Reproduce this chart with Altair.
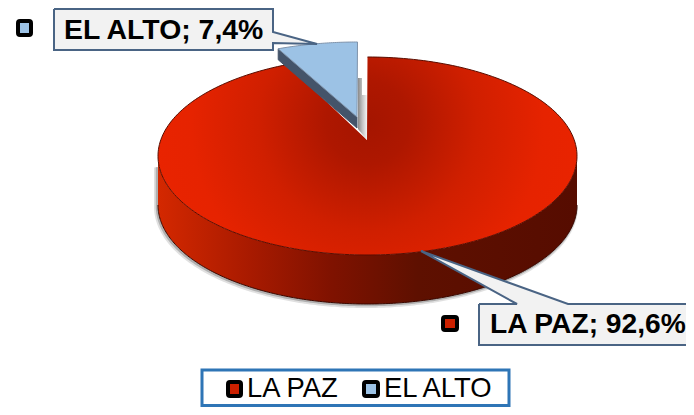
import numpy as np
import pandas as pd
import altair as alt

categories = ["LA PAZ", "EL ALTO"]
values = [92.6, 7.4]

FONT = "Liberation Sans"
XS = alt.Scale(domain=[8, 686], range=[0, 678])
YS = alt.Scale(domain=[407, 8], range=[399, 0])
X = alt.X("x:Q", scale=XS, axis=None)
Y = alt.Y("y:Q", scale=YS, axis=None)


def ray_param(apex, c, rx, ry, share_before):
    """Ellipse parameter hit by the ray from the apex at the share's true angle."""
    a = np.deg2rad(360 * share_before / 100)
    dx, dy = np.sin(a) * rx, -np.cos(a) * ry
    ox, oy = (apex[0] - c[0]) / rx, (apex[1] - c[1]) / ry
    ux, uy = dx / rx, dy / ry
    A, B, C = ux**2 + uy**2, 2 * (ox * ux + oy * uy), ox**2 + oy**2 - 1
    s = (-B + np.sqrt(B * B - 4 * A * C)) / (2 * A)
    px, py = apex[0] + s * dx, apex[1] + s * dy
    return np.arctan2((px - c[0]) / rx, -(py - c[1]) / ry) % (2 * np.pi)


def arc(c, rx, ry, t0, t1, n=240):
    t = np.linspace(t0, t1, n)
    return list(zip(c[0] + rx * np.sin(t), c[1] - ry * np.cos(t)))


def poly(pts, **mark):
    df = pd.DataFrame(pts, columns=["x", "y"])
    df["i"] = range(len(df))
    return alt.Chart(df).mark_line(**mark).encode(x=X, y=Y, order="i:Q")


def grad(kind, stops, **kw):
    return alt.Gradient(
        gradient=kind,
        stops=[alt.GradientStop(color=c, offset=o) for o, c in stops],
        **kw,
    )


def rect(x0, y0, x1, y1, **mark):
    df = pd.DataFrame([{"x": x0, "y": y0, "x2": x1, "y2": y1}])
    return alt.Chart(df).mark_rect(**mark).encode(
        x=X, y=Y, x2="x2:Q", y2="y2:Q"
    )


def text(s, x, y, size, weight="normal"):
    df = pd.DataFrame([{"x": x, "y": y, "t": s}])
    return alt.Chart(df).mark_text(
        align="left", baseline="middle", font=FONT, fontSize=size,
        fontWeight=weight, color="#000000",
    ).encode(x=X, y=Y, text="t:N")


def label(i):
    return f"{categories[i]}; {values[i]:.1f}%".replace(".", ",")


# ---- main slice
c = (367.5, 156.0)
rx, ry, depth = 209.5, 99.0, 49.0
apex = (367.0, 140.0)
t_end = ray_param(apex, c, rx, ry, values[0])
top_pts = [apex] + arc(c, rx, ry, 0, t_end) + [apex]

front = arc(c, rx, ry, np.pi / 2, 3 * np.pi / 2)
wall_df = pd.DataFrame(front, columns=["x", "y"])
wall_df["y2"] = wall_df["y"] + depth
wall_df = wall_df.sort_values("x")

wall = alt.Chart(wall_df).mark_area(
    fill=grad("linear", [(0, "#d42800"), (0.22, "#a81a00"), (0.41, "#801200"),
                         (0.62, "#5e1000"), (1, "#560c00")],
              x1=0, x2=1, y1=0, y2=0),
).encode(x=X, y=Y, y2="y2:Q")

bottom = arc((c[0], c[1] + depth), rx, ry, np.pi / 2, 3 * np.pi / 2)
shadow_tail = [(c[0] - rx, c[1] + 10)]
shadow_a = poly([(x - 1.5, y + 1.5) for x, y in bottom + shadow_tail], stroke="#555555", strokeWidth=5, opacity=0.18)
shadow_b = poly([(x - 1, y + 1) for x, y in bottom + shadow_tail], stroke="#555555", strokeWidth=2.5, opacity=0.35)
bottom_line = poly(bottom, stroke="#3a0800", strokeWidth=1)

top = poly(
    top_pts,
    fill=grad("radial", [(0, "#a41500"), (0.16, "#ae1700"), (0.42, "#d01f00"), (0.68, "#e62300"), (1, "#ec2400")],
              x1=0.5, y1=0.42, x2=0.5, y2=0.42, r1=0, r2=0.62),
    strokeWidth=0,
)
top_edge = poly(arc(c, rx, ry, 0, t_end), stroke="#5a0d00", strokeWidth=1)

# ---- shadow strip between the two slices
strip = poly(
    [(358, 78), (362, 78), (362, 95), (367, 95), (367, 140), (358, 129), (358, 78)],
    fill=grad("linear", [(0, "#8a8a8a"), (0.5, "#c4c4c4"), (1, "#f4f4f4")], x1=0, x2=1, y1=0, y2=0),
    strokeWidth=0,
)

# ---- detached slice
c2 = (357.5, 133.0)
rx2, ry2, depth2 = 209.5, 91.0, 11.0
apex2 = (357.0, 117.0)
t2 = ray_param(apex2, c2, rx2, ry2, values[0])
edge2 = arc(c2, rx2, ry2, t2, 2 * np.pi, 40)
blue_top = poly([apex2] + edge2 + [apex2], fill="#9cc2e5", stroke="#7f93ab", strokeWidth=1)
blue_wall = poly(
    [apex2, edge2[0], (edge2[0][0], edge2[0][1] + depth2), (apex2[0], apex2[1] + depth2), apex2],
    fill="#44546a", stroke="#44546a", strokeWidth=1,
)

# ---- callouts
BOX = dict(fill="#f2f2f2", stroke="#4a6484", strokeWidth=2)
box_alto = poly(
    [(54, 9), (273, 9), (273, 32), (317, 44), (273, 43), (273, 50), (54, 50), (54, 9)], **BOX
)
box_paz = poly(
    [(479, 304), (517, 304), (421, 251), (568, 304), (700, 304), (700, 345), (479, 345), (479, 304)], **BOX
)

# ---- swatches and legend
SW = dict(stroke="#000000", strokeWidth=4, cornerRadius=2)
RED, BLUE = "#cc2000", "#9dc3e6"

chart = alt.layer(
    shadow_a, shadow_b, wall, bottom_line, top, top_edge, strip,
    blue_wall, blue_top,
    box_alto, text(label(1), 64, 30, 28.4, "bold"),
    box_paz, text(label(0), 490, 325, 28.2, "bold"),
    rect(18, 21, 31, 35, fill=BLUE, **SW),
    rect(443, 317, 457, 330, fill=RED, **SW),
    rect(202, 370, 509, 405.5, fill="#ffffff", stroke="#2e75b6", strokeWidth=3),
    rect(228, 382, 241, 396, fill=RED, **SW),
    rect(364, 382, 378, 396, fill=BLUE, **SW),
    text(categories[0], 247, 389, 27.4),
    text(categories[1], 384, 389, 27.4),
).properties(
    width=678, height=399, padding=0, background="#ffffff",
    autosize=alt.AutoSizeParams(type="none"),
).configure_view(stroke=None)

chart.save("out.html", embed_options={"renderer": "svg", "actions": False})
